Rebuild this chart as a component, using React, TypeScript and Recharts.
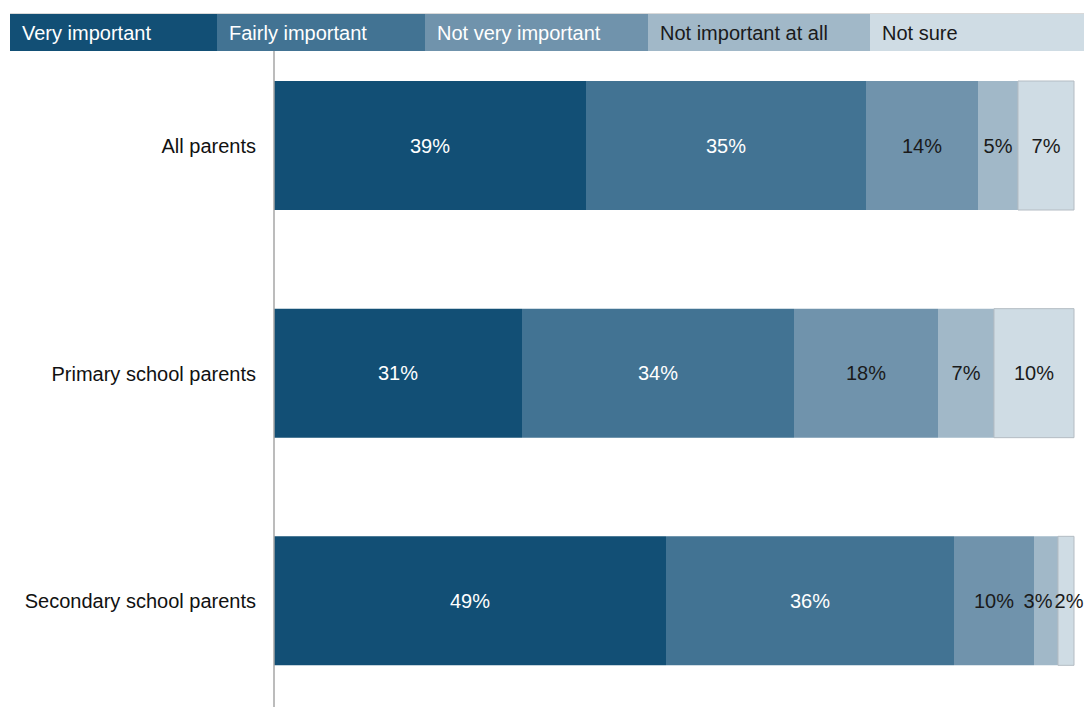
import { BarChart, Bar, XAxis, YAxis, LabelList } from "recharts";

const categories = ["All parents", "Primary school parents", "Secondary school parents"];
const seriesNames = ["Very important", "Fairly important", "Not very important", "Not important at all", "Not sure"];
const veryImportant = [39, 31, 49];
const fairlyImportant = [35, 34, 36];
const notVeryImportant = [14, 18, 10];
const notImportantAtAll = [5, 7, 3];
const notSure = [7, 10, 2];

const colors = ["#124f75", "#427393", "#7093ac", "#a1b8c8", "#cfdce4"];
const labelColors = ["#ffffff", "#ffffff", "#1a1a1a", "#1a1a1a", "#1a1a1a"];
const legendTextColors = ["#ffffff", "#ffffff", "#ffffff", "#1a1a1a", "#1a1a1a"];
const legendWidths = [207, 208, 223, 222, 214];

const keys = ["very", "fairly", "notVery", "notAtAll", "notSure"];
const seriesValues = [veryImportant, fairlyImportant, notVeryImportant, notImportantAtAll, notSure];

const data = categories.map((name, i) => {
  const row: Record<string, string | number> = { name };
  keys.forEach((k, s) => {
    row[k] = seriesValues[s][i];
  });
  return row;
});

const FONT = "'Liberation Sans', Arial, sans-serif";

// thin segments push their labels apart, like the original does
function nudge(series: number, row: number) {
  if (row === 2 && series === 3) return -8;
  if (row === 2 && series === 4) return 3;
  return 0;
}

function makeLabel(series: number) {
  // eslint-disable-next-line @typescript-eslint/no-explicit-any
  return (props: any) => {
    const { x, y, width, height, value, index } = props;
    return (
      <text
        x={x + width / 2 + nudge(series, index)}
        y={y + height / 2}
        textAnchor="middle"
        dominantBaseline="central"
        fontSize={20}
        fontFamily={FONT}
        fill={labelColors[series]}
      >
        {value}%
      </text>
    );
  };
}

function Legend() {
  let left = 0;
  return (
    <div
      style={{
        position: "absolute",
        top: 13,
        left: 10,
        width: 1074,
        height: 38,
        borderTop: "1px solid #d9d9d9",
        boxSizing: "border-box",
        zIndex: 2,
      }}
    >
      {seriesNames.map((name, i) => {
        const x = left;
        left += legendWidths[i];
        return (
          <div
            key={name}
            style={{
              position: "absolute",
              left: x,
              top: 0,
              width: legendWidths[i],
              height: 37,
              background: colors[i],
              color: legendTextColors[i],
              fontFamily: FONT,
              fontSize: 20,
              lineHeight: "39px",
              paddingLeft: 12,
              boxSizing: "border-box",
              whiteSpace: "nowrap",
            }}
          >
            {name}
          </div>
        );
      })}
    </div>
  );
}

export default function App() {
  return (
    <div
      style={{
        position: "absolute",
        left: 0,
        top: 0,
        width: 1084,
        height: 707,
        overflow: "hidden",
        background: "#fff",
      }}
    >
      <Legend />
      <div style={{ position: "absolute", left: 0, top: 0 }}>
        <BarChart
          width={1084}
          height={715}
          data={data}
          layout="vertical"
          margin={{ top: 32, right: 10, bottom: 0, left: 0 }}
        >
          <XAxis type="number" domain={[0, 100]} hide />
          <YAxis
            type="category"
            dataKey="name"
            width={274}
            tickLine={false}
            tickMargin={12}
            axisLine={{ stroke: "#a6a6a6", strokeWidth: 1.5 }}
            tick={{ fontSize: 20, fill: "#111", fontFamily: FONT }}
          />
          {keys.map((k, i) => (
            <Bar
              key={k}
              dataKey={k}
              stackId="a"
              fill={colors[i]}
              barSize={129}
              isAnimationActive={false}
              stroke={i === 4 ? "#b4bcc3" : undefined}
              strokeWidth={i === 4 ? 1 : 0}
            >
              <LabelList dataKey={k} content={makeLabel(i)} />
            </Bar>
          ))}
        </BarChart>
      </div>
    </div>
  );
}
